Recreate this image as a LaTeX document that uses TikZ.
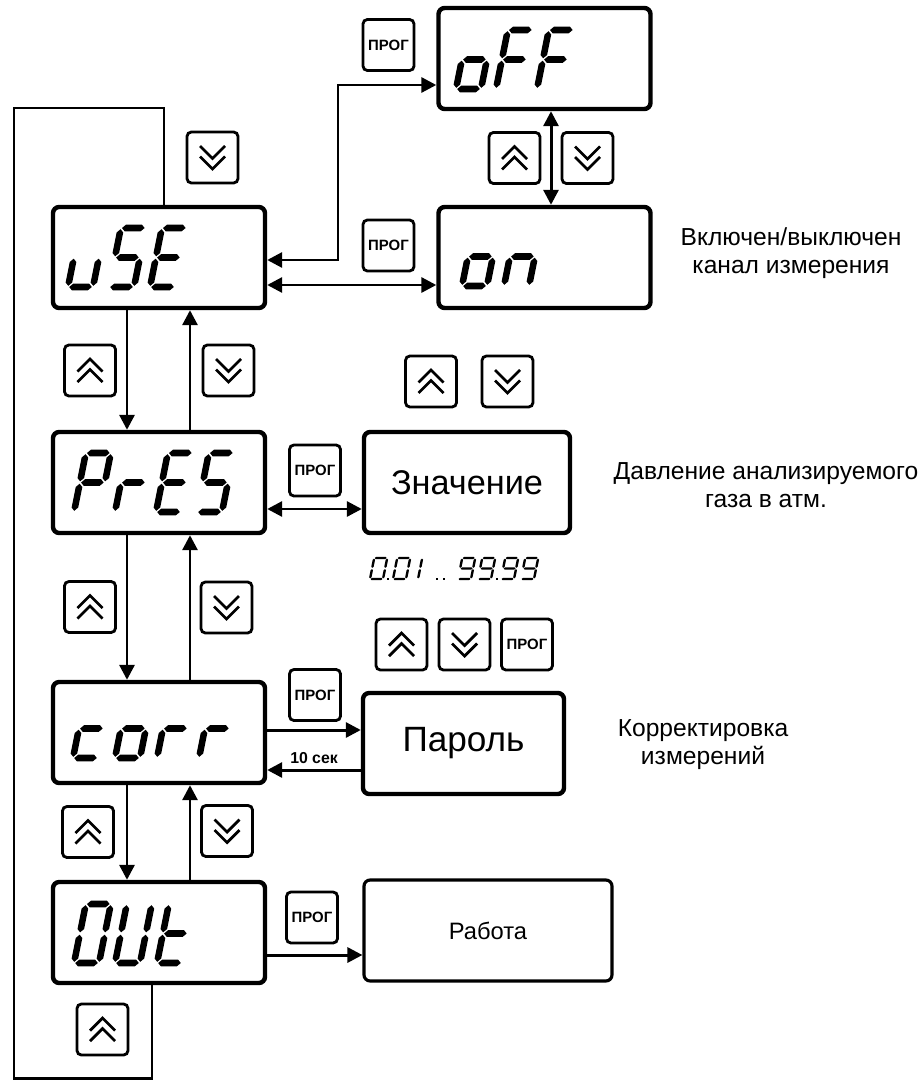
\documentclass[tikz,border=0pt]{standalone}
\usepackage{fontspec}
\setmainfont{Liberation Sans}
\usetikzlibrary{arrows.meta}
\def\px{0.02cm}
% seven-segment geometry (px units)
\def\dW{25}\def\dH{59}\def\dh{3.3}\def\dg{1.2}
\def\hsegm#1#2#3{\fill ({#1},{#3}) -- ({#1+\dh},{#3-\dh}) -- ({#2-\dh},{#3-\dh}) -- ({#2},{#3}) -- ({#2-\dh},{#3+\dh}) -- ({#1+\dh},{#3+\dh}) -- cycle;}
\def\vsegm#1#2#3{\fill ({#1},{#2}) -- ({#1+\dh},{#2+\dh}) -- ({#1+\dh},{#3-\dh}) -- ({#1},{#3}) -- ({#1-\dh},{#3-\dh}) -- ({#1-\dh},{#2+\dh}) -- cycle;}
\def\SEGa{\hsegm{\dg}{\dW-\dg}{-\dH}}
\def\SEGb{\vsegm{\dW}{-\dH+\dg}{-\dH/2-\dg}}
\def\SEGc{\vsegm{\dW}{-\dH/2+\dg}{-\dg}}
\def\SEGd{\hsegm{\dg}{\dW-\dg}{0}}
\def\SEGe{\vsegm{0}{-\dH/2+\dg}{-\dg}}
\def\SEGf{\vsegm{0}{-\dH+\dg}{-\dH/2-\dg}}
\def\SEGg{\hsegm{\dg}{\dW-\dg}{-\dH/2}}
\newcommand\sevdig[3]{\begin{scope}[shift={(#1,#2)}, xslant=0.2]\foreach \s in {#3} {\csname SEG\s\endcsname}\end{scope}}
\newcommand\upchev[1]{\begin{scope}[shift={(#1.center)}]\draw[chev] (-12.5,1) -- (0,-11.5) -- (12.5,1) (-12.5,11.5) -- (0,-1) -- (12.5,11.5);\end{scope}}
\newcommand\dnchev[1]{\begin{scope}[shift={(#1.center)}]\draw[chev] (-12.5,-1) -- (0,11.5) -- (12.5,-1) (-12.5,-11.5) -- (0,1) -- (12.5,-11.5);\end{scope}}
\newcommand\segdot[1]{\fill ({#1-1.3},577.7) rectangle ({#1+1.3},580.3);}
\begin{document}
\begin{tikzpicture}[x=\px,y=-\px,
 disp/.style={draw, line width=2.5pt, rounded corners=3.5pt, minimum width=212*\px, minimum height=101*\px, inner sep=0pt},
 btn/.style={draw, line width=1.6pt, rounded corners=2.5pt, minimum width=51*\px, minimum height=51*\px, inner sep=0pt},
 progbtn/.style={btn, font=\bfseries\fontsize{8.5}{9}\selectfont},
 chev/.style={line width=1.6pt, line join=miter},
 conn/.style={line width=1.7pt},
 arr/.style={conn, -{Triangle[length=8.5pt,width=8.5pt]}},
 arrb/.style={conn, {Triangle[length=8.5pt,width=8.5pt]}-{Triangle[length=8.5pt,width=8.5pt]}},
 desc/.style={align=center, font=\fontsize{14}{16}\selectfont, inner sep=0pt}]
\useasboundingbox (0,0) rectangle (922,1081);
% displays
\node[disp] (uSE) at (159,257.5) {};
\node[disp] (oFF) at (544.5,58.5) {};
\node[disp] (on) at (544.5,257.5) {};
\node[disp] (PrES) at (159,482.5) {};
\node[disp] (corr) at (159,732.5) {};
\node[disp] (OUt) at (159,932.5) {};
\node[disp, minimum width=206*\px, font=\fontsize{19.5}{22}\selectfont] (Znach) at (467,482.5) {Значение};
\node[disp, minimum width=201*\px, font=\fontsize{20}{24}\selectfont] (Parol) at (463.5,743.5) {Пароль};
\node[disp, line width=1.8pt, minimum width=248*\px, font=\fontsize{13.5}{16}\selectfont] (Rab) at (488,930.5) {Работа};
% display digits
\sevdig{68}{287}{c,d,e}\sevdig{109}{287}{a,f,g,c,d}\sevdig{150}{287}{a,f,g,e,d}
\sevdig{456}{89}{c,d,e,g}\sevdig{496}{89}{a,e,f,g}\sevdig{537}{89}{a,e,f,g}
\sevdig{462}{286}{c,d,e,g}\sevdig{504}{286}{c,e,g}
\sevdig{74}{512}{a,b,e,f,g}\sevdig{115}{512}{e,g}\sevdig{156}{512}{a,d,e,f,g}\sevdig{197}{512}{a,c,d,f,g}
\sevdig{73}{758}{d,e,g}\sevdig{115}{758}{c,d,e,g}\sevdig{157}{758}{e,g}\sevdig{199}{758}{e,g}
\sevdig{74}{963}{a,b,c,d,e,f}\sevdig{115}{963}{b,c,d,e,f}\sevdig{157}{963}{d,e,f,g}
% range 0.01 .. 99.99
\begin{scope}
\def\dW{13}\def\dH{21}\def\dh{1.2}\def\dg{0.6}
\sevdig{370}{579}{a,b,c,d,e,f}\segdot{388}
\sevdig{393}{579}{a,b,c,d,e,f}
\sevdig{405}{579}{b,c}
\segdot{437}\segdot{444}
\sevdig{458}{579}{a,b,c,d,f,g}
\sevdig{478}{579}{a,b,c,d,f,g}\segdot{497}
\sevdig{501}{579}{a,b,c,d,f,g}
\sevdig{521}{579}{a,b,c,d,f,g}
\end{scope}
% buttons
\node[btn] (bd0) at (212.5,157.5) {}; \dnchev{bd0}
\node[progbtn] (p1) at (388.5,45) {ПРОГ};
\node[progbtn] (p2) at (388.5,245.5) {ПРОГ};
\node[btn] (bu1) at (514.5,158) {}; \upchev{bu1}
\node[btn] (bd1) at (587.5,158) {}; \dnchev{bd1}
\node[btn] (bu2) at (90,370.5) {}; \upchev{bu2}
\node[btn] (bd2) at (228.5,370.5) {}; \dnchev{bd2}
\node[btn] (bu3) at (431,381.5) {}; \upchev{bu3}
\node[btn] (bd3) at (507.5,381.5) {}; \dnchev{bd3}
\node[progbtn] (p3) at (315,470.5) {ПРОГ};
\node[btn] (bu4) at (90,607) {}; \upchev{bu4}
\node[btn] (bd4) at (226.5,607.5) {}; \dnchev{bd4}
\node[btn] (bu5) at (401.5,644.5) {}; \upchev{bu5}
\node[btn] (bd5) at (464.5,644.5) {}; \dnchev{bd5}
\node[progbtn] (p4) at (527,644.5) {ПРОГ};
\node[progbtn] (p5) at (315,695) {ПРОГ};
\node[btn] (bu6) at (88,832) {}; \upchev{bu6}
\node[btn] (bd6) at (227,831) {}; \dnchev{bd6}
\node[progbtn] (p6) at (312,917.5) {ПРОГ};
\node[btn] (bu7) at (102.5,1029.5) {}; \upchev{bu7}
% descriptions
\node[desc] (t1) at (791,253) {Включен/выключен\\канал измерения};
\node[desc] (t2) at (766,485) {Давление анализируемого\\газа в атм.};
\node[desc] (t3) at (703,745) {Корректировка\\измерений};
% connectors
\coordinate (xL) at (127,0); \coordinate (xR) at (190,0);
\draw[arr] (uSE.south -| xL) -- (PrES.north -| xL);
\draw[arr] (PrES.north -| xR) -- (uSE.south -| xR);
\draw[arr] (PrES.south -| xL) -- (corr.north -| xL);
\draw[arr] (corr.north -| xR) -- (PrES.south -| xR);
\draw[arr] (corr.south -| xL) -- (OUt.north -| xL);
\draw[arr] (OUt.north -| xR) -- (corr.south -| xR);
\coordinate (y260) at (0,260); \coordinate (k1) at (338,85);
\draw[arrb] (uSE.east |- y260) -| (k1) -- (oFF.west |- k1);
\coordinate (y285) at (0,285);
\draw[arrb] (uSE.east |- y285) -- (on.west |- y285);
\coordinate (x551) at (551,0);
\draw[arrb] (oFF.south -| x551) -- (on.north -| x551);
\coordinate (y509) at (0,509);
\draw[arrb] (PrES.east |- y509) -- (Znach.west |- y509);
\coordinate (y730) at (0,730); \coordinate (y770) at (0,770);
\draw[arr] (corr.east |- y730) -- (Parol.west |- y730);
\draw[arr] (Parol.west |- y770) -- node[above, font=\bfseries\fontsize{9}{10}\selectfont, inner sep=2.5pt] (lbl10) {10 сек} (corr.east |- y770);
\coordinate (y955) at (0,955);
\draw[arr] (OUt.east |- y955) -- (Rab.west |- y955);
\coordinate (lb) at (152,1078); \coordinate (lt) at (14,108); \coordinate (xT) at (164,0);
\draw[conn] (OUt.south -| lb) -- (lb) -| (lt) -| (uSE.north -| xT);
\end{tikzpicture}
\end{document}
